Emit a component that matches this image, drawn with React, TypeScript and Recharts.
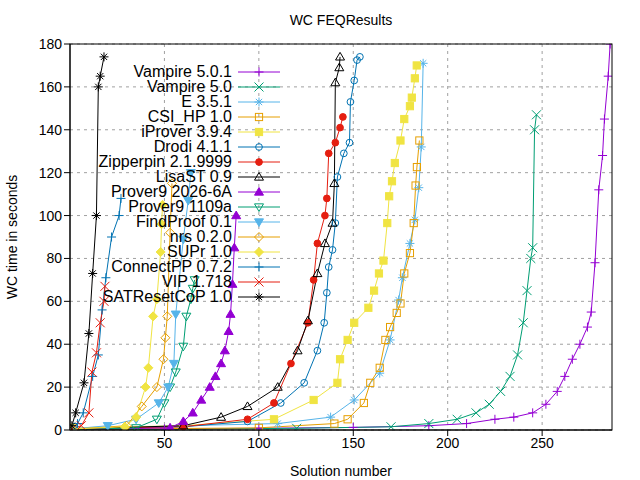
import React from 'react';
import { LineChart, Line, XAxis, YAxis, CartesianGrid } from 'recharts';

type Pt = [number, number];

// sorted solve times, [solution number, seconds]
const vampire501: Pt[] = [[1, 0.3], [50, 0.5], [100, 0.8], [150, 1.2], [190, 2], [210, 3], [225, 5], [235, 6], [245, 8], [252, 12], [258, 18], [262, 25], [266, 33], [270, 40], [274, 48], [276, 55], [278, 78], [280, 112], [282, 128], [283, 145], [285, 165], [286, 180]];
const vampire50: Pt[] = [[1, 0.2], [60, 0.4], [120, 0.8], [170, 1.5], [190, 3], [205, 5], [215, 8], [222, 12], [228, 18], [233, 25], [237, 35], [240, 50], [242, 65], [244, 80], [245, 85], [246, 140], [247, 147]];
const e351: Pt[] = [[1, 0.5], [60, 2], [110, 3], [138, 6], [150.5, 14], [164, 26.5], [169.5, 42], [174, 60.6], [176, 71], [180, 87], [182.6, 98], [184.7, 113], [186, 132], [187, 171]];
const csiHp: Pt[] = [[1, 0.3], [100, 1], [140, 3], [147, 5], [155.6, 12.6], [159, 22], [164, 29], [167, 42], [169.5, 48], [173, 54.6], [175, 59], [177, 73], [180, 82.5], [182, 96.5], [183, 114], [183.7, 122.6], [185, 135]];
const iprover: Pt[] = [[1, 1], [60, 2], [108, 5], [129, 14], [141.6, 22], [143, 33], [147, 42], [150.5, 50], [158, 57], [161, 65], [163.6, 73], [166, 79], [168, 96.5], [169, 109], [170.5, 116], [172, 124.5], [175, 135], [177, 145], [180, 151], [181, 155], [182.6, 164], [183.6, 170]];
const drodi: Pt[] = [[1, 0.5], [60, 1.5], [94, 4], [111.6, 12.6], [124, 22], [131, 37], [134.6, 50], [136, 64], [137, 76], [139, 84], [140.5, 96.5], [141.6, 118], [145, 129], [148, 134], [148.5, 153], [150.5, 163], [152, 172.5], [153.5, 174]];
const zipperpin: Pt[] = [[1, 0.5], [60, 1.5], [94, 5], [108, 12.6], [117, 31], [126, 50], [129, 70], [131, 87], [135, 100], [136, 108], [137, 129], [140.5, 134], [143, 141], [144.5, 146]];
const lisaSt: Pt[] = [[1, 0.5], [60, 2], [80, 6], [94, 11], [110, 20], [120.5, 37], [126, 51], [131, 73], [135, 87], [139, 96.5], [140, 115], [140.5, 162], [142.6, 169], [143, 174]];
const prover9a: Pt[] = [[1, 0.2], [53, 1], [60, 4], [65, 8], [69.5, 14], [74, 20], [77, 25], [80, 31], [82, 37], [84, 46], [85, 54], [86, 68], [87, 85], [88, 100]];
const prover9b: Pt[] = [[1, 0.1], [35, 1], [46, 5], [50, 12.6], [53, 20], [56, 27], [60, 39], [61.6, 53], [64, 61], [65, 66], [66, 70]];
const findProof: Pt[] = [[1, 0.5], [20, 2], [35, 5], [47, 12.6], [52, 20], [55, 31], [56, 54], [60, 89], [62.6, 107], [64, 120]];
const nrs: Pt[] = [[1, 0.3], [30, 2], [38, 11], [46, 20], [49.5, 33], [50.5, 43], [51.5, 53], [53, 92], [54, 115]];
const supr: Pt[] = [[1, 0.5], [29, 1.5], [35, 6], [40, 20], [41.5, 29], [44, 53], [46, 61], [48, 83], [48.5, 96], [49, 105]];
const connectPp: Pt[] = [[1, 0.5], [4, 3], [7, 8], [12, 25], [15, 35], [17, 56], [19, 71], [22, 90], [26, 100], [27, 108]];
const vip: Pt[] = [[1, 0.5], [6, 2], [10, 8], [11.6, 27], [14, 36], [16, 50], [18, 60], [18.5, 67]];
const satReset: Pt[] = [[1, 2], [3, 8], [7.4, 22], [10, 45], [12, 73], [14, 100], [15, 160], [16, 165], [18, 174]];

const xTicks = [50, 100, 150, 200, 250];
const yTicks = [0, 20, 40, 60, 80, 100, 120, 140, 160, 180];

type Shape = 'plus' | 'cross' | 'star' | 'sq' | 'fsq' | 'circ' | 'fcirc' | 'tri' | 'ftri' | 'itri' | 'fitri' | 'dia' | 'fdia';

const series: { name: string; data: Pt[]; color: string; shape: Shape }[] = [
  { name: 'Vampire 5.0.1', data: vampire501, color: '#9400d3', shape: 'plus' },
  { name: 'Vampire 5.0', data: vampire50, color: '#009e73', shape: 'cross' },
  { name: 'E 3.5.1', data: e351, color: '#56b4e9', shape: 'star' },
  { name: 'CSI_HP 1.0', data: csiHp, color: '#e69f00', shape: 'sq' },
  { name: 'iProver 3.9.4', data: iprover, color: '#f0e442', shape: 'fsq' },
  { name: 'Drodi 4.1.1', data: drodi, color: '#0072b2', shape: 'circ' },
  { name: 'Zipperpin 2.1.9999', data: zipperpin, color: '#e51e10', shape: 'fcirc' },
  { name: 'LisaST 0.9', data: lisaSt, color: '#000000', shape: 'tri' },
  { name: 'Prover9 2026-6A', data: prover9a, color: '#9400d3', shape: 'ftri' },
  { name: 'Prover9 1109a', data: prover9b, color: '#009e73', shape: 'itri' },
  { name: 'FindProof 0.1', data: findProof, color: '#56b4e9', shape: 'fitri' },
  { name: 'nrs 0.2.0', data: nrs, color: '#e69f00', shape: 'dia' },
  { name: 'SUPr 1.0', data: supr, color: '#f0e442', shape: 'fdia' },
  { name: 'ConnectPP 0.7.2', data: connectPp, color: '#0072b2', shape: 'plus' },
  { name: 'VIP 1.718', data: vip, color: '#e51e10', shape: 'cross' },
  { name: 'SATResetCoP 1.0', data: satReset, color: '#000000', shape: 'star' },
];

function Marker({ cx, cy, shape, color }: { cx: number; cy: number; shape: Shape; color: string }) {
  const r = 4.5;
  const st = { stroke: color, strokeWidth: 1, fill: 'none' };
  const fl = { stroke: color, strokeWidth: 1, fill: color };
  switch (shape) {
    case 'plus':
      return <path d={`M${cx - r},${cy}H${cx + r}M${cx},${cy - r}V${cy + r}`} {...st} />;
    case 'cross':
      return <path d={`M${cx - r},${cy - r}L${cx + r},${cy + r}M${cx - r},${cy + r}L${cx + r},${cy - r}`} {...st} />;
    case 'star':
      return <path d={`M${cx - r},${cy}H${cx + r}M${cx},${cy - r}V${cy + r}M${cx - r * 0.7},${cy - r * 0.7}L${cx + r * 0.7},${cy + r * 0.7}M${cx - r * 0.7},${cy + r * 0.7}L${cx + r * 0.7},${cy - r * 0.7}`} {...st} />;
    case 'sq':
    case 'fsq':
      return <rect x={cx - r * 0.8} y={cy - r * 0.8} width={r * 1.6} height={r * 1.6} {...(shape === 'sq' ? st : fl)} />;
    case 'circ':
    case 'fcirc':
      return <circle cx={cx} cy={cy} r={r * 0.75} {...(shape === 'circ' ? st : fl)} />;
    case 'tri':
    case 'ftri':
      return <path d={`M${cx},${cy - r}L${cx + r},${cy + r * 0.7}L${cx - r},${cy + r * 0.7}Z`} {...(shape === 'tri' ? st : fl)} />;
    case 'itri':
    case 'fitri':
      return <path d={`M${cx},${cy + r}L${cx + r},${cy - r * 0.7}L${cx - r},${cy - r * 0.7}Z`} {...(shape === 'itri' ? st : fl)} />;
    default:
      return <path d={`M${cx},${cy - r}L${cx + r},${cy}L${cx},${cy + r}L${cx - r},${cy}Z`} {...(shape === 'dia' ? st : fl)} />;
  }
}

const font = 'Liberation Sans, Arial, sans-serif';

export default function App() {
  return (
    <div style={{ position: 'absolute', left: 0, top: 0, width: 640, height: 480, background: '#fff', fontFamily: font }}>
      <LineChart width={640} height={480} margin={{ top: 44, right: 28, bottom: 0, left: 0 }}>
        <CartesianGrid stroke="#a0a0a0" strokeDasharray="3 4" horizontalValues={yTicks} verticalValues={xTicks} />
        <XAxis type="number" dataKey="x" domain={[0, 287]} ticks={xTicks} allowDataOverflow height={50}
          tick={{ fill: '#000', fontSize: 14, fontFamily: font }} stroke="#000" tickSize={6}
          label={{ value: 'Solution number', position: 'insideBottom', offset: 4, fill: '#000', fontSize: 14, fontFamily: font }} />
        <YAxis type="number" dataKey="y" domain={[0, 180]} ticks={yTicks} allowDataOverflow width={70}
          tick={{ fill: '#000', fontSize: 14, fontFamily: font }} stroke="#000" tickSize={6} />
        {series.map((s) => (
          <Line key={s.name} data={s.data.map(([x, y]) => ({ x, y }))} dataKey="y" type="linear"
            stroke={s.color} strokeWidth={1} isAnimationActive={false}
            dot={(p: any) => <Marker key={`${s.name}-${p.index}`} cx={p.cx} cy={p.cy} shape={s.shape} color={s.color} />} />
        ))}
      </LineChart>
      <svg width={640} height={480} style={{ position: 'absolute', left: 0, top: 0, pointerEvents: 'none' }}>
        <rect x={70} y={44} width={542} height={386} fill="none" stroke="#000" />
        <text x={341} y={25} textAnchor="middle" fontSize={14} fontFamily={font}>WC FEQResults</text>
        <text x={17} y={237} textAnchor="middle" fontSize={14} fontFamily={font} transform="rotate(-90 17 237)">WC time in seconds</text>
        {series.map((s, i) => {
          const y = 72 + i * 15;
          return (
            <g key={s.name}>
              <text x={232} y={y + 5} textAnchor="end" fontSize={16} fontFamily={font}>{s.name}</text>
              <line x1={238} x2={280} y1={y} y2={y} stroke={s.color} />
              <Marker cx={259} cy={y} shape={s.shape} color={s.color} />
            </g>
          );
        })}
      </svg>
    </div>
  );
}
